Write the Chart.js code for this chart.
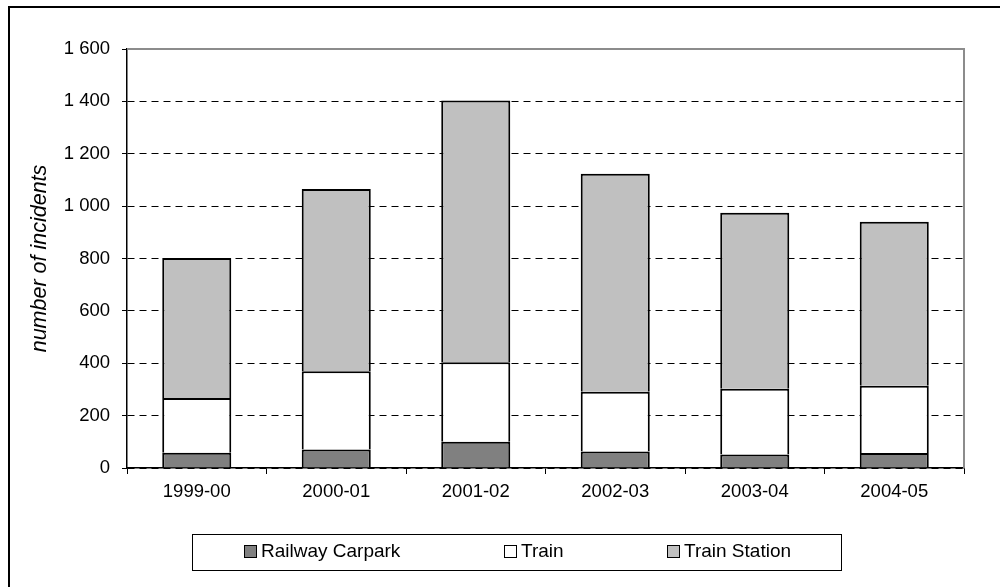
<!DOCTYPE html>
<html>
<head>
<meta charset="utf-8">
<script src="https://cdn.jsdelivr.net/npm/chart.js@4/dist/chart.umd.min.js"></script>
<style>
  html, body { margin: 0; padding: 0; background: #fff; }
  #wrap { width: 1000px; height: 587px; position: relative; }
</style>
</head>
<body>
<div id="wrap"><canvas id="c" width="1000" height="587"></canvas></div>
<script>
// ---- data ----
const categories = ['1999-00', '2000-01', '2001-02', '2002-03', '2003-04', '2004-05'];
const railwayCarpark = [58, 71, 100, 63, 52, 57];
const train = [209, 298, 304, 228, 251, 257];
const trainStation = [535, 696, 999, 833, 672, 626];
const seriesNames = ['Railway Carpark', 'Train', 'Train Station'];
const yMin = 0, yMax = 1600, yStep = 200;
const yTitle = 'number of incidents';

Chart.defaults.font.family = '"Liberation Sans", Arial, sans-serif';
Chart.defaults.color = '#000';

const framePlugin = {
  id: 'frame',
  beforeDraw(chart) {
    const ctx = chart.ctx;
    ctx.save();
    ctx.fillStyle = '#fff';
    ctx.fillRect(0, 0, chart.width, chart.height);
    ctx.strokeStyle = '#000';
    ctx.lineWidth = 2;
    ctx.beginPath();
    ctx.moveTo(9, chart.height + 2);
    ctx.lineTo(9, 7);
    ctx.lineTo(chart.width + 2, 7);
    ctx.stroke();
    ctx.restore();
  },
  beforeDatasetsDraw(chart) {
    const a = chart.chartArea, ctx = chart.ctx;
    ctx.save();
    ctx.strokeStyle = '#8c8c8c';
    ctx.lineWidth = 2;
    ctx.beginPath();
    ctx.moveTo(a.left, a.top);
    ctx.lineTo(a.right, a.top);
    ctx.lineTo(a.right, a.bottom);
    ctx.stroke();
    ctx.restore();
  },
  afterDraw(chart) {
    const ctx = chart.ctx;
    ctx.save();
    // legend box
    ctx.strokeStyle = '#000';
    ctx.lineWidth = 1;
    ctx.strokeRect(192.5, 534.5, 649, 36);
    const xs = [244, 504, 667];
    const cy = 551;
    ctx.font = '19px "Liberation Sans", Arial, sans-serif';
    ctx.textBaseline = 'middle';
    ctx.textAlign = 'left';
    chart.data.datasets.forEach((ds, i) => {
      const x = xs[i];
      ctx.fillStyle = ds.backgroundColor;
      ctx.fillRect(x, cy - 6, 13, 13);
      ctx.strokeStyle = '#000';
      ctx.lineWidth = 1;
      ctx.strokeRect(x + 0.5, cy - 6 + 0.5, 12, 12);
      ctx.fillStyle = '#000';
      ctx.fillText(ds.label, x + 17, cy + 1);
    });
    ctx.restore();
  }
};

const fmt = v => String(v).replace(/\B(?=(\d{3})+(?!\d))/g, ' ');

new Chart(document.getElementById('c'), {
  type: 'bar',
  data: {
    labels: categories,
    datasets: [
      { label: seriesNames[0], data: railwayCarpark, backgroundColor: '#808080' },
      { label: seriesNames[1], data: train, backgroundColor: '#ffffff' },
      { label: seriesNames[2], data: trainStation, backgroundColor: '#c0c0c0' }
    ].map(d => Object.assign(d, {
      borderColor: '#000',
      borderWidth: { top: 2, left: 2, right: 2, bottom: 0 },
      borderSkipped: false,
      barPercentage: 1, categoryPercentage: 0.495
    }))
  },
  options: {
    responsive: false,
    animation: false,
    devicePixelRatio: 1,
    layout: { padding: { left: 0, right: 36, top: 49, bottom: 79 } },
    plugins: { legend: { display: false }, tooltip: { enabled: false } },
    scales: {
      x: {
        stacked: true,
        afterFit: a => { a.height = 40; },
        grid: { offset: true, drawOnChartArea: false, drawTicks: true, tickLength: 6, color: '#000' },
        border: { display: true, color: '#000', width: 1.5 },
        ticks: { font: { size: 18.5 }, padding: 7, maxRotation: 0, color: '#000' }
      },
      y: {
        stacked: true,
        min: yMin, max: yMax,
        afterFit: a => { a.width = 127; },
        grid: {
          drawTicks: true, tickLength: 5,
          color: c => (c.tick && c.tick.value === yMax) ? '#8c8c8c' : '#000',
          tickColor: '#000'
        },
        border: { display: true, color: '#000', width: 1.5, dash: [7, 5] },
        ticks: { stepSize: yStep, font: { size: 18.5 }, padding: 12, color: '#000', callback: v => fmt(v) },
        title: { display: true, text: yTitle, font: { size: 21.5, style: 'italic' }, color: '#000', padding: { top: 27, bottom: 0 } }
      }
    }
  },
  plugins: [framePlugin]
});
</script>
</body>
</html>
